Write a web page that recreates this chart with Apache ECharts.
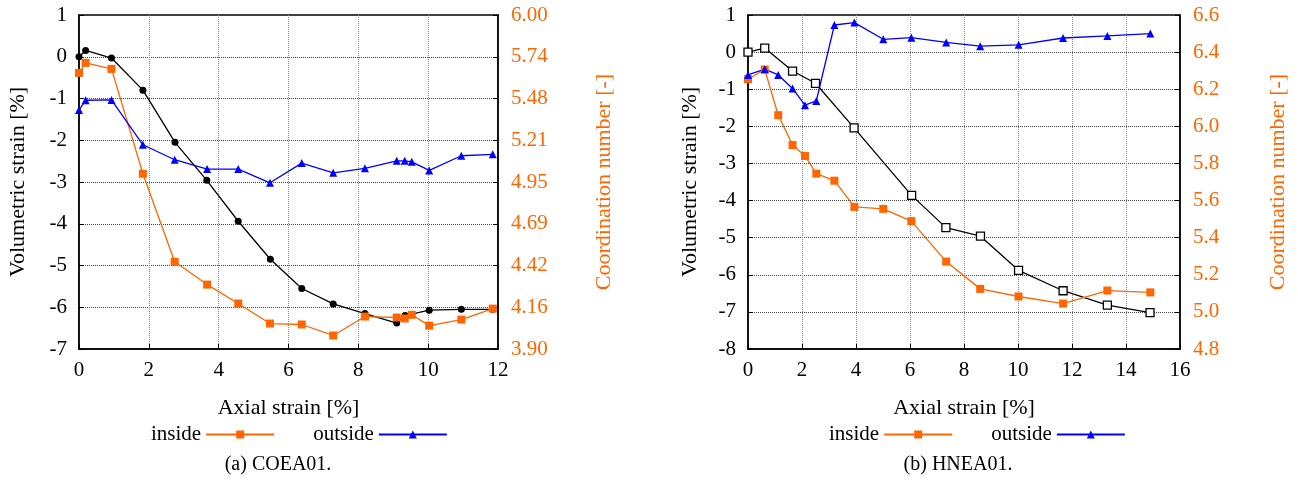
<!DOCTYPE html>
<html>
<head>
<meta charset="utf-8">
<script src="https://cdn.jsdelivr.net/npm/echarts@6/dist/echarts.min.js"></script>
<style>html,body{margin:0;padding:0;background:#fff}#c{width:1298px;height:488px}</style>
</head>
<body>
<div id="c"></div>
<script>
// ---------- (a) COEA01 ----------
const aVolX = [0, 0.19, 0.93, 1.83, 2.75, 3.66, 4.56, 5.48, 6.38, 7.28, 8.19, 9.10, 9.34, 10.03, 10.95, 11.85];
const aVolY = [0, 0.15, -0.03, -0.80, -2.05, -2.96, -3.94, -4.85, -5.55, -5.92, -6.15, -6.38, -6.20, -6.07, -6.05, -6.05];
const aCnX = [0, 0.19, 0.93, 1.83, 2.74, 3.67, 4.56, 5.47, 6.38, 7.28, 8.19, 9.10, 9.33, 9.53, 10.03, 10.95, 11.85];
const aInY = [5.636, 5.699, 5.661, 5.002, 4.448, 4.305, 4.186, 4.060, 4.054, 3.985, 4.104, 4.098, 4.092, 4.115, 4.047, 4.085, 4.154];
const aOutY = [5.402, 5.464, 5.466, 5.184, 5.090, 5.031, 5.031, 4.945, 5.069, 5.008, 5.036, 5.083, 5.083, 5.077, 5.023, 5.115, 5.124];
const aRightTicks = ['3.90', '4.16', '4.42', '4.69', '4.95', '5.21', '5.48', '5.74', '6.00'];

// ---------- (b) HNEA01 ----------
const bVolX = [0, 0.62, 1.65, 2.50, 3.93, 6.06, 7.33, 8.61, 10.02, 11.67, 13.31, 14.89];
const bVolY = [0, 0.11, -0.51, -0.84, -2.04, -3.86, -4.73, -4.96, -5.88, -6.43, -6.82, -7.02];
const bCnX = [0, 0.62, 1.12, 1.65, 2.11, 2.53, 3.20, 3.94, 5.01, 6.05, 7.34, 8.60, 10.02, 11.67, 13.31, 14.90];
const bInY = [6.254, 6.306, 6.060, 5.899, 5.840, 5.745, 5.707, 5.566, 5.555, 5.489, 5.271, 5.124, 5.083, 5.045, 5.115, 5.105];
const bOutY = [6.277, 6.308, 6.277, 6.204, 6.114, 6.137, 6.546, 6.559, 6.469, 6.478, 6.452, 6.432, 6.439, 6.476, 6.487, 6.500];

const seriesNames = ['inside', 'outside'];
const xName = 'Axial strain [%]';
const yLeftName = 'Volumetric strain [%]';
const yRightName = 'Coordination number [-]';
const captions = ['(a) COEA01.', '(b) HNEA01.'];

const FONT = '"Liberation Serif", "Times New Roman", serif';
const ORANGE = '#ff6600';
const BLUE = '#0000ff';
const zip = (xs, ys) => xs.map((x, i) => [x, ys[i]]);

function xAxisOf(gi, max) {
  return {
    type: 'value', gridIndex: gi, min: 0, max: max, interval: 2,
    name: xName, nameLocation: 'middle', nameGap: 48,
    nameTextStyle: {fontFamily: FONT, fontSize: 22, color: '#000'},
    axisLine: {show: true, onZero: false, lineStyle: {color: '#000', width: 1.5}},
    axisTick: {show: true, inside: true, length: 5, lineStyle: {color: '#000'}},
    axisLabel: {fontFamily: FONT, fontSize: 21, color: '#000', margin: 11},
    splitLine: {show: true, lineStyle: {type: 'dotted', color: '#888', width: 1}}
  };
}
function yLeftOf(gi, min, max, gap) {
  return {
    type: 'value', gridIndex: gi, position: 'left', min: min, max: max, interval: 1,
    name: yLeftName, nameLocation: 'middle', nameGap: gap,
    nameTextStyle: {fontFamily: FONT, fontSize: 22, color: '#000'},
    axisLine: {show: true, onZero: false, lineStyle: {color: '#000', width: 1.5}},
    axisTick: {show: true, inside: true, length: 5, lineStyle: {color: '#000'}},
    axisLabel: {fontFamily: FONT, fontSize: 21, color: '#000', margin: 12},
    splitLine: {show: true, lineStyle: {type: 'dotted', color: '#444', width: 1}}
  };
}
function yRightOf(gi, min, max, interval, fmt, gap) {
  return {
    type: 'value', gridIndex: gi, position: 'right', min: min, max: max, interval: interval,
    name: yRightName, nameLocation: 'middle', nameGap: gap,
    nameTextStyle: {fontFamily: FONT, fontSize: 22, color: ORANGE},
    axisLine: {show: true, onZero: false, lineStyle: {color: '#000', width: 1.5}},
    axisTick: {show: true, inside: true, length: 5, lineStyle: {color: '#000'}},
    axisLabel: {fontFamily: FONT, fontSize: 21, color: ORANGE, margin: 13, formatter: fmt},
    splitLine: {show: false}
  };
}
function lineSeries(name, xi, yi, data, color, symbol, size, extra) {
  return Object.assign({
    name: name, type: 'line', xAxisIndex: xi, yAxisIndex: yi, data: data,
    symbol: symbol, symbolSize: size, showSymbol: true, clip: false,
    lineStyle: {color: color, width: 1.3},
    itemStyle: {color: color},
    animation: false
  }, extra || {});
}

const aInterval = (6.0 - 3.9) / 8;
const chart = echarts.init(document.getElementById('c'), null, {renderer: 'canvas'});
chart.setOption({
  animation: false,
  backgroundColor: '#fff',
  grid: [
    {left: 79, right: 800, top: 15, height: 334, show: true, borderColor: '#000', borderWidth: 1.5, backgroundColor: 'transparent'},
    {left: 748, right: 118, top: 15, height: 334, show: true, borderColor: '#000', borderWidth: 1.5, backgroundColor: 'transparent'}
  ],
  xAxis: [xAxisOf(0, 12), xAxisOf(1, 16)],
  yAxis: [
    yLeftOf(0, -7, 1, 50),
    yRightOf(0, 3.9, 6.0, aInterval, function (v) { return aRightTicks[Math.round((v - 3.9) / aInterval)]; }, 95),
    yLeftOf(1, -8, 1, 47),
    yRightOf(1, 4.8, 6.6, 0.2, function (v) { return v.toFixed(1); }, 87)
  ],
  legend: [
    {data: seriesNames, left: 146, top: 419, align: 'right', itemWidth: 68, itemHeight: 10, itemGap: 38,
     textStyle: {fontFamily: FONT, fontSize: 21, color: '#000'}, selectedMode: false},
    {data: seriesNames, left: 824, top: 419, align: 'right', itemWidth: 68, itemHeight: 10, itemGap: 38,
     textStyle: {fontFamily: FONT, fontSize: 21, color: '#000'}, selectedMode: false}
  ],
  graphic: [
    {type: 'text', x: 278, y: 465, style: {text: captions[0], font: '20px ' + FONT, fill: '#000', align: 'center', verticalAlign: 'middle'}},
    {type: 'text', x: 958, y: 465, style: {text: captions[1], font: '20px ' + FONT, fill: '#000', align: 'center', verticalAlign: 'middle'}}
  ],
  series: [
    lineSeries('volumetric', 0, 0, zip(aVolX, aVolY), '#000', 'circle', 7),
    lineSeries(seriesNames[0], 0, 1, zip(aCnX, aInY), ORANGE, 'rect', 8),
    lineSeries(seriesNames[1], 0, 1, zip(aCnX, aOutY), BLUE, 'triangle', 8),
    lineSeries('volumetric b', 1, 2, zip(bVolX, bVolY), '#000', 'rect', 8,
      {itemStyle: {color: '#fff', borderColor: '#000', borderWidth: 1.3}}),
    lineSeries(seriesNames[0], 1, 3, zip(bCnX, bInY), ORANGE, 'rect', 8),
    lineSeries(seriesNames[1], 1, 3, zip(bCnX, bOutY), BLUE, 'triangle', 8)
  ]
});
</script>
</body>
</html>
